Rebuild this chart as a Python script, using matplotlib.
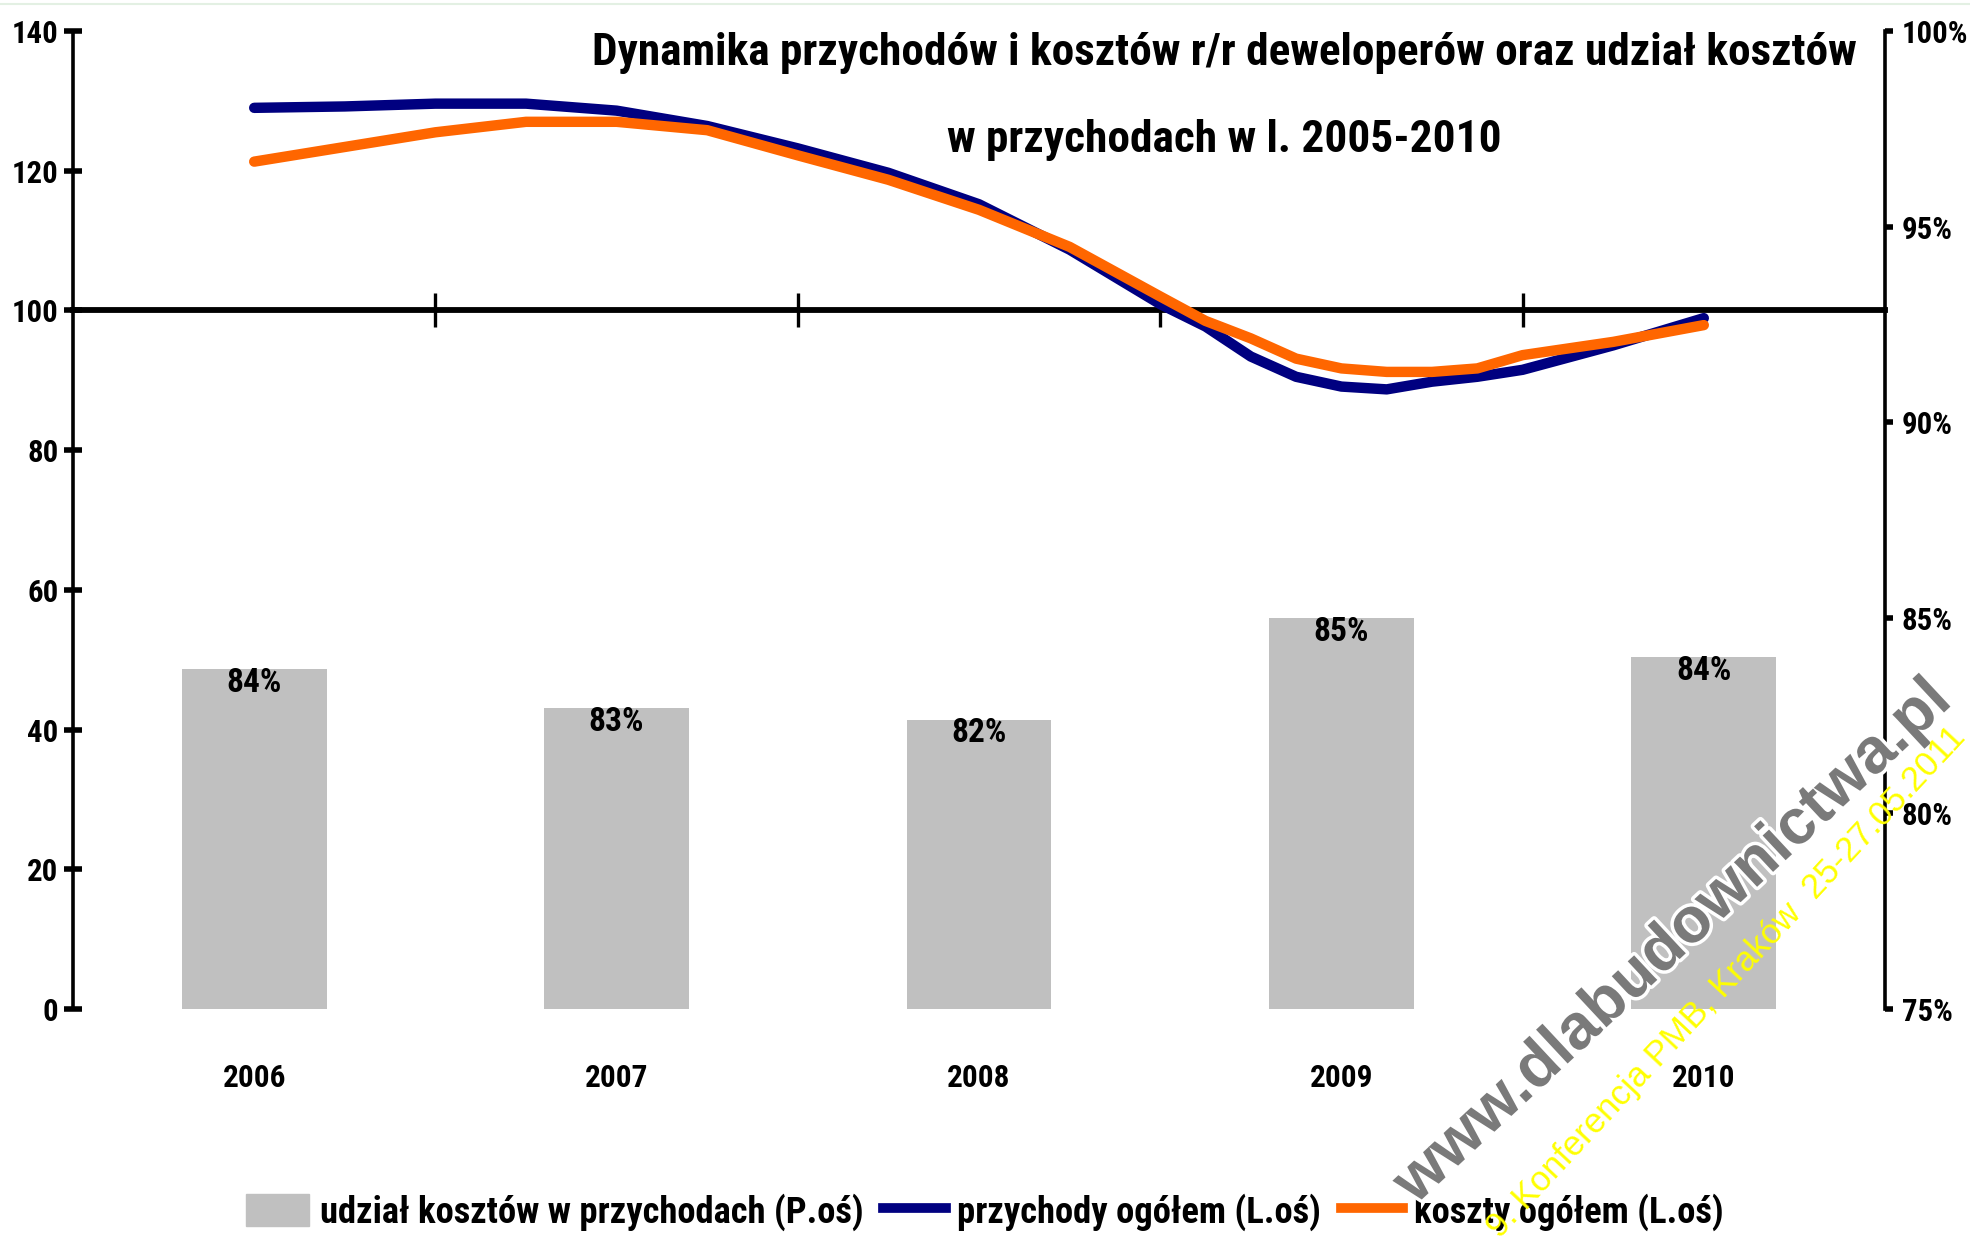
import numpy as np
import matplotlib
matplotlib.use('Agg')
import matplotlib.pyplot as plt
from matplotlib import font_manager
import matplotlib.patheffects as pe
from matplotlib.lines import Line2D
from matplotlib.patches import Patch

years = ['2006', '2007', '2008', '2009', '2010']
# udział kosztów w przychodach (right axis, %)
cost_share = [83.7, 82.7, 82.4, 85.0, 84.0]

# smoothed lines as drawn in the picture, x = years after 2006
line_x = [0, 0.25, 0.5, 0.75, 1, 1.25, 1.5, 1.75, 2, 2.25, 2.5, 2.625,
          2.75, 2.875, 3, 3.125, 3.25, 3.375, 3.5, 3.75, 4]
revenue = [129.0, 129.2, 129.6, 129.6, 128.6, 126.4, 123.2, 119.7, 115.2, 108.7, 100.9, 97.7,
           93.4, 90.5, 89.1, 88.7, 89.8, 90.5, 91.5, 95.0, 98.9]
costs = [121.3, 123.4, 125.5, 127.0, 127.0, 125.8, 122.2, 118.7, 114.4, 109.1, 102.0, 98.5,
         96.0, 93.1, 91.7, 91.2, 91.2, 91.7, 93.6, 95.5, 97.9]

title1 = 'Dynamika przychodów i kosztów r/r deweloperów oraz udział kosztów'
title2 = 'w przychodach w l. 2005-2010'
labels = ['udział kosztów w przychodach (P.oś)', 'przychody ogółem (L.oś)', 'koszty ogółem (L.oś)']

navy = '#000080'
orange = '#ff6600'
grey = '#c0c0c0'

# pick a narrow font if there is one
names = set(f.name for f in font_manager.fontManager.ttflist)
narrow = 'DejaVu Sans'
for cand in ['Liberation Sans Narrow', 'Roboto Condensed', 'Open Sans Condensed']:
    if cand in names:
        narrow = cand
        break
plt.rcParams['font.family'] = [narrow, 'DejaVu Sans']
plt.rcParams['font.stretch'] = 'condensed'
plt.rcParams['font.weight'] = 'bold'

W, H = 1970, 1240
fig = plt.figure(figsize=(W / 100, H / 100), dpi=100)

# title, sized so its width matches the original
t1 = fig.text(1224 / W, 1 - 53 / H, title1, ha='center', va='center', fontsize=30)
renderer = fig.canvas.get_renderer()
k = 1266 / t1.get_window_extent(renderer).width
fs_title = 30 * k
t1.set_fontsize(fs_title)
fig.text(1224 / W, 1 - 140 / H, title2, ha='center', va='center', fontsize=fs_title)
fs_tick = fs_title * 0.68
fs_year = fs_title * 0.69
fs_bar = fs_title * 0.74
fs_leg = fs_title * 0.81

ax = fig.add_axes([73 / W, 1 - 1009 / H, (1885 - 73) / W, (1009 - 31) / H])
ax2 = ax.twinx()
ax.set_zorder(ax2.get_zorder() + 1)
ax.patch.set_visible(False)

x = np.arange(len(years))
ax2.bar(x, cost_share, width=0.4, color=grey, zorder=1)
ax2.set_ylim(75, 100)
for i, v in enumerate(cost_share):
    ax2.annotate('%d%%' % round(v), (i, v), xytext=(0, -10), textcoords='offset points',
                 ha='center', va='center', fontsize=fs_bar)

ax.plot(line_x, revenue, color=navy, lw=7.5, solid_capstyle='round', solid_joinstyle='round', zorder=3)
ax.plot(line_x, costs, color=orange, lw=7.5, solid_capstyle='round', solid_joinstyle='round', zorder=4)
ax.set_ylim(0, 140)
ax.set_xlim(-0.5, 4.5)

# x axis crosses at 100
ax.spines['bottom'].set_position(('data', 100))
ax.spines['bottom'].set_linewidth(4.2)
ax.spines['bottom'].set_zorder(2)
ax.spines['top'].set_visible(False)
ax.spines['right'].set_visible(False)
ax.spines['left'].set_linewidth(2.6)
ax.set_xticks(x)
ax.tick_params(axis='x', which='major', length=0, labelbottom=False)
ax.set_xticks(np.arange(0.5, 4, 1), minor=True)
ax.tick_params(axis='x', which='minor', direction='inout', length=25, width=2.4)
for i, y in enumerate(years):
    ax.text(i, -0.0706, y, transform=ax.get_xaxis_transform(), ha='center', va='center',
            fontsize=fs_year)

ax.set_yticks(range(0, 141, 20))
ax.tick_params(axis='y', direction='inout', length=13, width=4, labelsize=fs_tick, pad=4)

for s in ['top', 'bottom', 'left']:
    ax2.spines[s].set_visible(False)
ax2.spines['right'].set_linewidth(2.6)
ax2.set_yticks(range(75, 101, 5))
ax2.set_yticklabels(['%d%%' % v for v in range(75, 101, 5)])
ax2.tick_params(axis='y', direction='out', length=6, width=4, labelsize=fs_tick, pad=6)

handles = [Patch(color=grey), Line2D([], [], color=navy, lw=7), Line2D([], [], color=orange, lw=7)]
fig.legend(handles, labels, loc='center', bbox_to_anchor=(0.5, 1 - 1212 / H), ncol=3,
           frameon=False, fontsize=fs_leg, handlelength=1.7, handleheight=1.0,
           handletextpad=0.3, columnspacing=0.55)

# watermark
fig.text(1673 / W, 1 - 942 / H, 'www.dlabudownictwa.pl', rotation=43, rotation_mode='anchor',
         ha='center', va='center', fontsize=46, fontweight='heavy', fontstretch='normal',
         family=['Liberation Sans', 'DejaVu Sans'], color='#7a7a7a',
         path_effects=[pe.withStroke(linewidth=5, foreground='white')], zorder=10)
fig.text(1726 / W, 1 - 982 / H, '9. Konferencja PMB, Kraków  25-27.05.2011', rotation=47,
         rotation_mode='anchor', ha='center', va='center', fontsize=25, fontweight='normal',
         fontstretch='normal', family=['Liberation Sans', 'DejaVu Sans'], color='#ffff00', zorder=11)

fig.add_artist(Line2D([0, 1], [1 - 4 / H] * 2, color='#e3f0e3', lw=1.5, transform=fig.transFigure))

fig.savefig('out.png', dpi=100)
